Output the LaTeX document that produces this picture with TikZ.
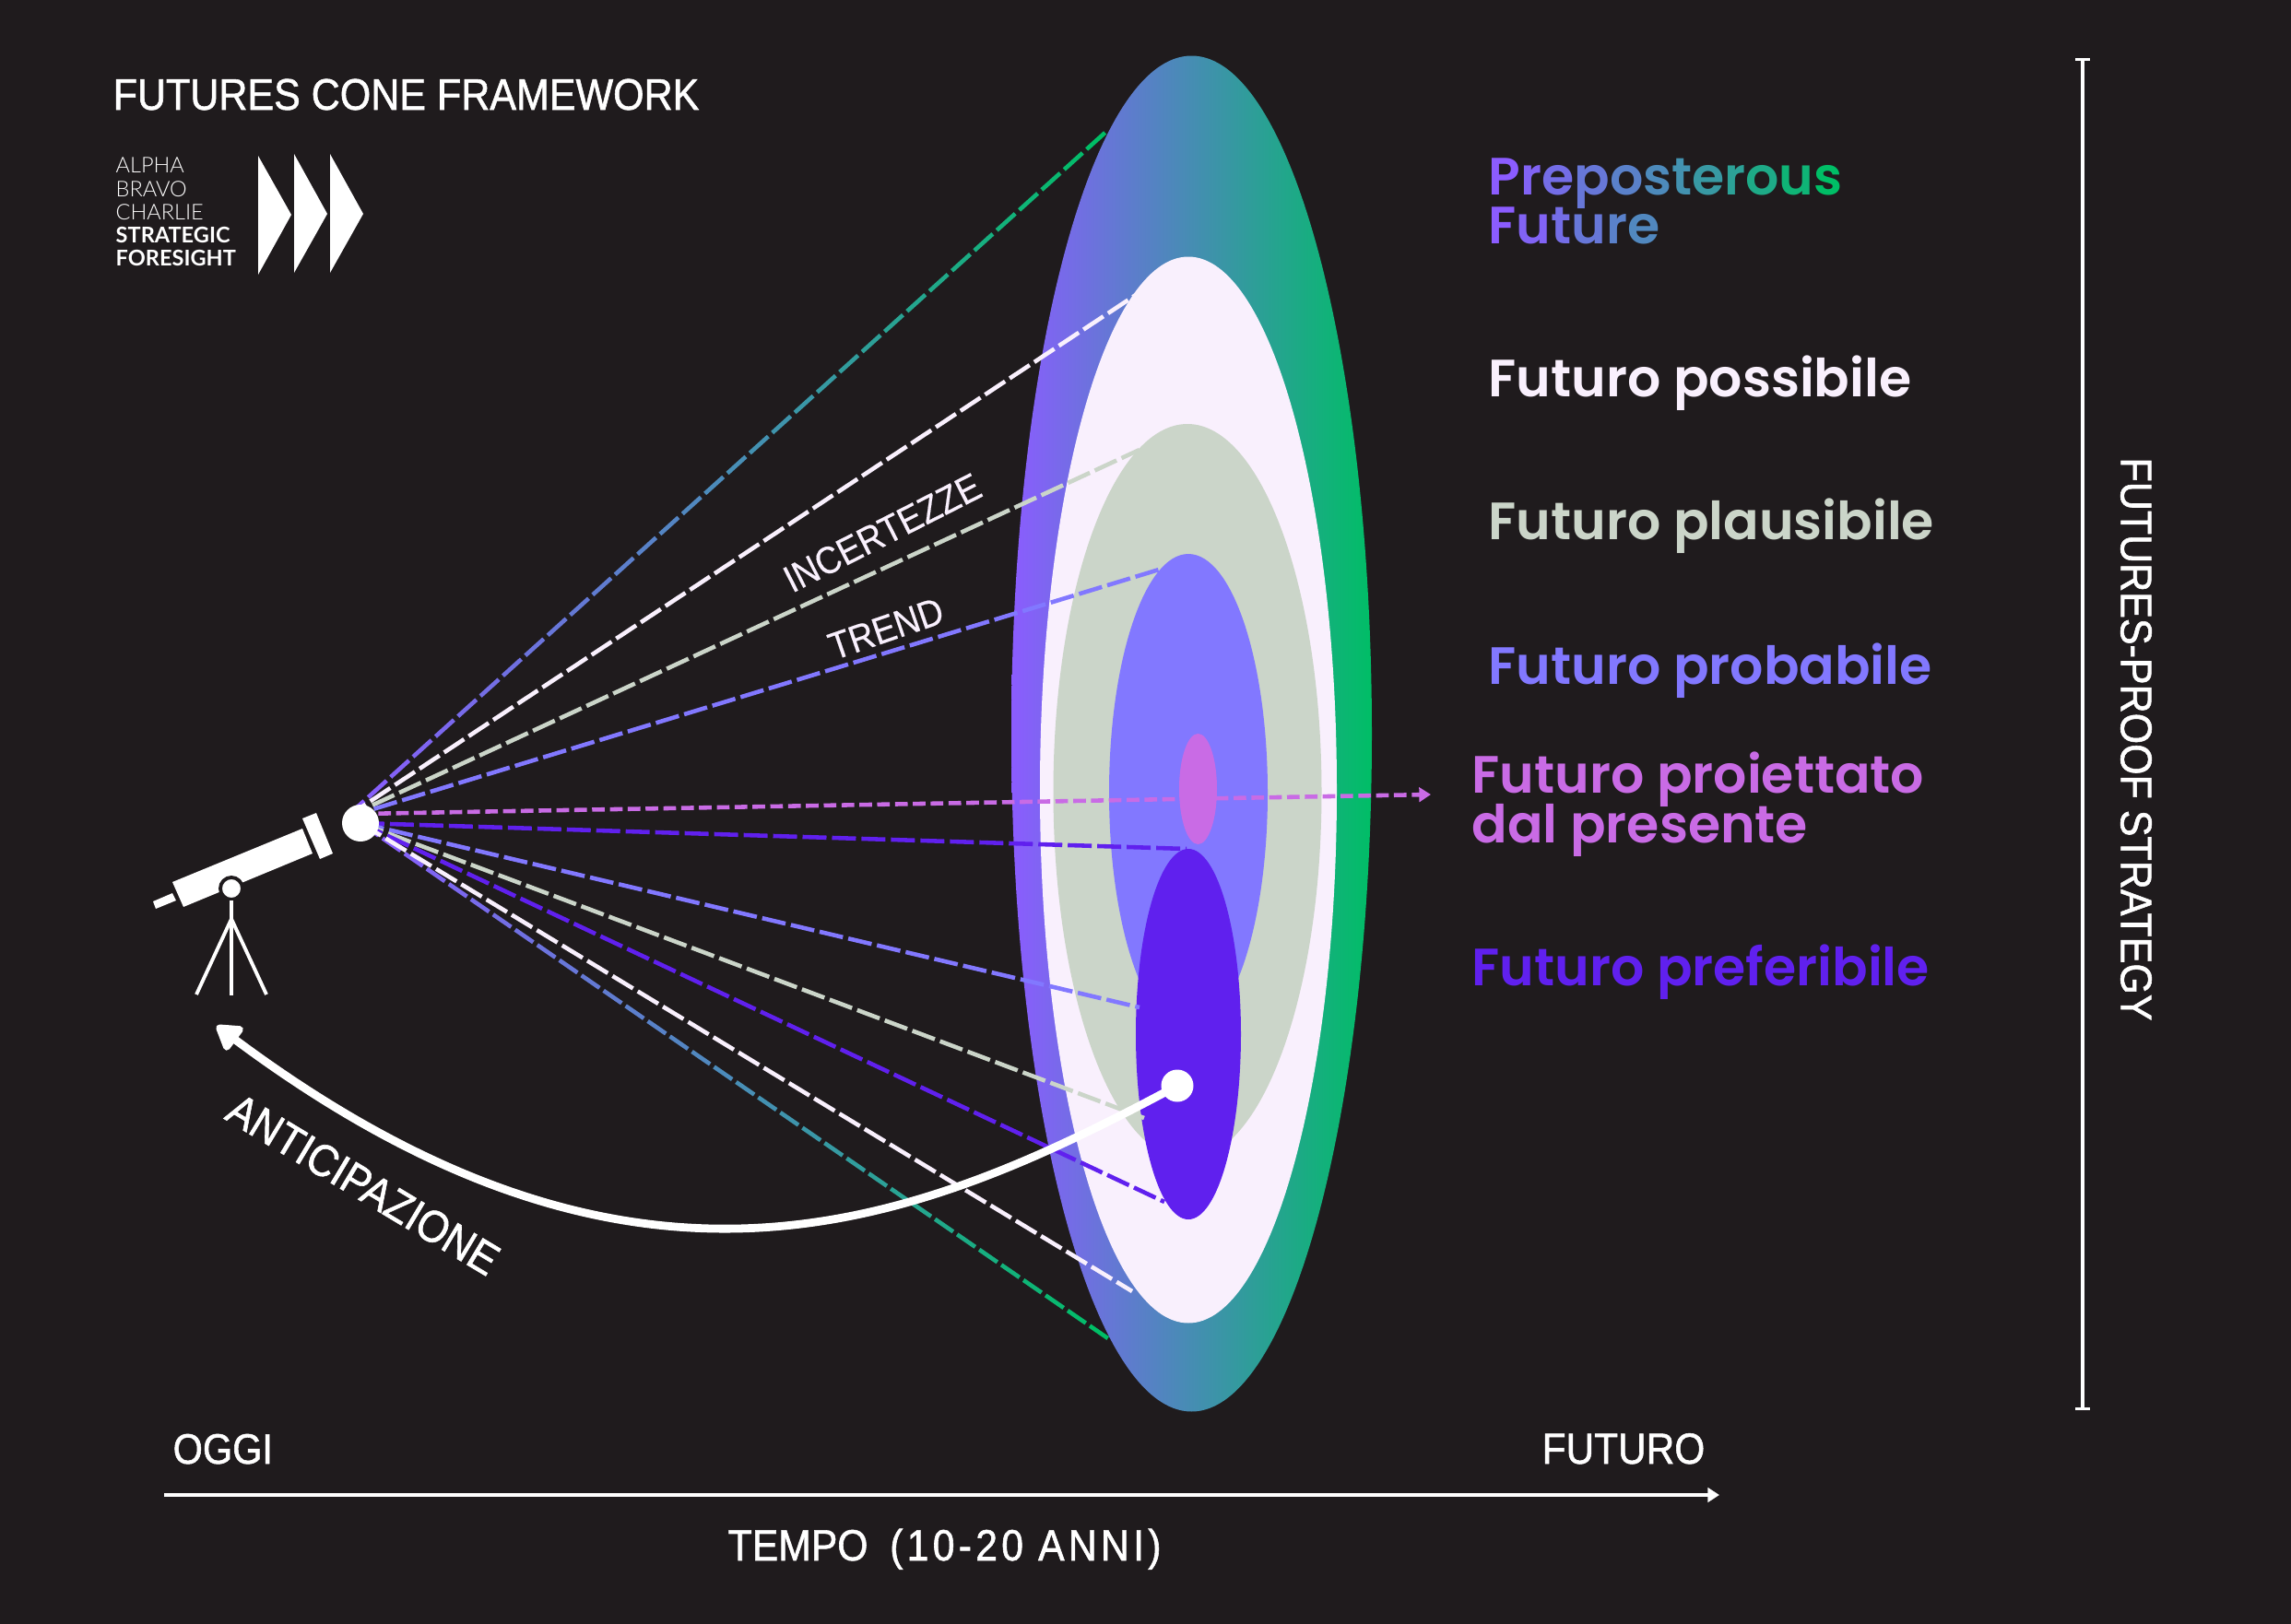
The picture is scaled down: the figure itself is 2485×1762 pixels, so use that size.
\documentclass[tikz,border=0pt]{standalone}
\usepackage{fontspec}
\setmainfont{Liberation Sans}
\newfontfamily\capsfont[FakeStretch=0.9,FakeBold=1.2]{Liberation Sans}
\newfontfamily\capslight[FakeStretch=0.9,FakeBold=0.4]{Liberation Sans}
\newfontfamily\conefont{Poppins SemiBold}
\newfontfamily\logofont{Lato Light}
\newfontfamily\logoboldfont{Lato Bold}
\usetikzlibrary{shapes.geometric,arrows.meta,calc}
\definecolor{bgcol}{HTML}{1F1B1D}
\definecolor{coneviolet}{HTML}{8B5CFF}
\definecolor{conemid}{HTML}{4A8DB8}
\definecolor{conegreen}{HTML}{00BE66}
\definecolor{possibile}{HTML}{F9F0FD}
\definecolor{plausibile}{HTML}{CBD5C9}
\definecolor{probabile}{HTML}{8278FF}
\definecolor{proiettato}{HTML}{C96BE5}
\definecolor{preferibile}{HTML}{6020EE}
% one dash at a time, colour running violet -> blue -> green
\newcommand{\gradline}[2]{%
  \foreach \i in {0,...,33}{
    \pgfmathsetmacro\tstart{\i/34}
    \pgfmathsetmacro\tend{(\i+0.82)/34}
    \pgfmathtruncatemacro\mixa{min(100,200*\i/33)}
    \pgfmathtruncatemacro\mixb{max(0,200*\i/33-100)}
    \colorlet{dashcol}{conemid!\mixa!coneviolet}
    \colorlet{dashcol}{conegreen!\mixb!dashcol}
    \draw[dashcol,line width=1.3pt] ($(#1)!\tstart!(#2)$) -- ($(#1)!\tend!(#2)$);
  }}
\newcommand{\lettercol}[2]{\textcolor{#1}{#2}}
\begin{document}
\begin{tikzpicture}[x=0.1mm,y=-0.1mm,
    oval/.style={ellipse,inner sep=0pt,outer sep=0pt},
    dashline/.style={line width=1.3pt,dash pattern=on 7.4pt off 1.7pt},
    conelabel/.style={anchor=base west,inner sep=0pt,font=\conefont\fontsize{16.2}{16.2}\selectfont},
    capslabel/.style={inner sep=0pt,text=white,font=\capsfont\fontsize{13.6}{13.6}\selectfont},
    thinlabel/.style={inner sep=0pt,text=possibile,font=\capslight\fontsize{11.8}{11.8}\selectfont},
    logolabel/.style={anchor=base west,inner sep=0pt,text=white,font=\logofont\fontsize{6.7}{6.7}\selectfont},
    logobold/.style={anchor=base west,inner sep=0pt,text=white,font=\logoboldfont\fontsize{6.7}{6.7}\selectfont}]
  \fill[bgcol] (0,0) rectangle (2485,1762);

  % ovals of the cone
  \node (preposterous) at (1292.5,796) [oval,minimum width=39.1mm,minimum height=147.1mm,left color=coneviolet,middle color=conemid,right color=conegreen] {};
  \node (possible) at (1289,857) [oval,fill=possibile,minimum width=32.2mm,minimum height=115.7mm] {};
  \node (plausible) at (1288,859) [oval,fill=plausibile,minimum width=29.1mm,minimum height=79.8mm] {};
  \node (probable) at (1289,860) [oval,fill=probabile,minimum width=17.2mm,minimum height=51.8mm] {};
  \node (projected) at (1299.5,856) [oval,fill=proiettato,minimum width=4.1mm,minimum height=12mm] {};
  \node (preferable) at (1289,1122) [oval,fill=preferibile,minimum width=11.4mm,minimum height=40.2mm] {};

  % lines of sight
  \coordinate (eye) at (391,893);
  \coordinate (eyeup) at (375,887);
  \coordinate (eyepink) at (391,883);
  \coordinate (preptop) at (1203,140);
  \coordinate (prepbottom) at (1206,1455);
  \coordinate (whitetop) at (1238,316);
  \coordinate (whitebottom) at (1228,1401);
  \coordinate (sagetop) at (1236,488);
  \coordinate (sagebottom) at (1241,1213);
  \coordinate (bluetop) at (1257,618);
  \coordinate (bluebottom) at (1236,1093);
  \coordinate (purpletop) at (1287,921);
  \coordinate (purplebottom) at (1263,1304);
  \coordinate (pinkend) at (1552,862);
  \gradline{eyeup}{preptop}
  \gradline{eye}{prepbottom}
  \draw (eyeup) edge[dashline,possibile] (whitetop);
  \draw (eyeup) edge[dashline,plausibile] (sagetop);
  \draw (eyeup) edge[dashline,probabile] (bluetop);
  \draw (eye) edge[dashline,preferibile] (purpletop);
  \draw (eye) edge[dashline,probabile] (bluebottom);
  \draw (eye) edge[dashline,plausibile] (sagebottom);
  \draw (eye) edge[dashline,preferibile] (purplebottom);
  \draw (eye) edge[dashline,possibile] (whitebottom);
  \draw (eyepink) edge[line width=1.3pt,proiettato,dash pattern=on 3.9pt off 1.6pt,-{Triangle[length=3.6pt,width=4.4pt]}] (pinkend);

  % telescope
  \node (eyedot) at (eye) [circle,fill=white,inner sep=0pt,minimum size=4mm] {};
  \fill[white] (187,957) -- (328,899) -- (339,926) -- (199,984) -- cycle;
  \fill[white] (328,888) -- (343,882) -- (361,926) -- (347,932) -- cycle;
  \fill[white] (166,978) -- (187,969) -- (191,977) -- (169,986) -- cycle;
  \node (mount) at (251,964) [circle,fill=white,draw=bgcol,line width=1.1pt,inner sep=0pt,minimum size=2.4mm] {};
  \coordinate (legtop) at (251,977);
  \coordinate (legjoin) at (251,997);
  \coordinate (legmid) at (251,1080);
  \coordinate (legleft) at (213,1079);
  \coordinate (legright) at (289,1079);
  \draw[white,line width=1.1pt] (legtop) -- (legmid);
  \draw[white,line width=1.1pt] (legjoin) -- (legleft);
  \draw[white,line width=1.1pt] (legjoin) -- (legright);

  % anticipation arrow
  \node (futuredot) at (1277,1178) [circle,fill=white,inner sep=0pt,minimum size=3.5mm] {};
  \coordinate (anticipation) at (235,1113);
  \draw[white,line width=2.5pt,-{Triangle[length=8.5pt,width=10pt,round]}] (futuredot.center) .. controls (990,1332) and (690,1452) .. (anticipation);

  % title and logo
  \node (title) at (122,119) [capslabel,anchor=base west] {FUTURES CONE FRAMEWORK};
  \node (alpha) at (125,187) [logolabel] {ALPHA};
  \node (bravo) at (125,213) [logolabel] {BRAVO};
  \node (charlie) at (125,238) [logolabel] {CHARLIE};
  \node (strategic) at (125,263) [logobold] {STRATEGIC};
  \node (foresight) at (125,288) [logobold] {FORESIGHT};
  \fill[white] (280,169) -- (316,233) -- (280,298) -- cycle;
  \fill[white] (319,167) -- (355,232) -- (319,296) -- cycle;
  \fill[white] (358,167) -- (394,232) -- (358,296) -- cycle;

  % labels
  \node (preplabel) at (1614,211) [conelabel] {%
    \lettercol{coneviolet}{P}\lettercol{conemid!15!coneviolet}{r}\lettercol{conemid!35!coneviolet}{e}%
    \lettercol{conemid!55!coneviolet}{p}\lettercol{conemid!75!coneviolet}{o}\lettercol{conemid!95!coneviolet}{s}%
    \lettercol{conegreen!10!conemid}{t}\lettercol{conegreen!25!conemid}{e}\lettercol{conegreen!40!conemid}{r}%
    \lettercol{conegreen!60!conemid}{o}\lettercol{conegreen!80!conemid}{u}\lettercol{conegreen}{s}};
  \node (futurelabel) at (1614,264) [conelabel] {%
    \lettercol{coneviolet}{F}\lettercol{conemid!15!coneviolet}{u}\lettercol{conemid!35!coneviolet}{t}%
    \lettercol{conemid!55!coneviolet}{u}\lettercol{conemid!75!coneviolet}{r}\lettercol{conemid!90!coneviolet}{e}};
  \node (possiblelabel) at (1614,430) [conelabel,text=possibile] {Futuro possibile};
  \node (plausiblelabel) at (1614,585) [conelabel,text=plausibile] {Futuro plausibile};
  \node (probablelabel) at (1614,742) [conelabel,text=probabile] {Futuro probabile};
  \node (projectedlabel) at (1596,860) [conelabel,text=proiettato] {Futuro proiettato};
  \node (presentlabel) at (1596,914) [conelabel,text=proiettato] {dal presente};
  \node (preferablelabel) at (1596,1069) [conelabel,text=preferibile] {Futuro preferibile};

  \node (incertezze) at (957,578) [thinlabel,rotate=27] {INCERTEZZE};
  \node (trendlabel) at (961,682) [thinlabel,rotate=19] {TREND};
  \node (anticipazione) at (394,1285) [capslabel,rotate=-31] {\fontsize{13.9}{13.9}\selectfont ANTICIPAZIONE};

  % time axis
  \coordinate (axisstart) at (178,1622);
  \coordinate (axisend) at (1865,1622);
  \draw (axisstart) edge[white,line width=0.9pt,-{Triangle[length=3.6pt,width=4.4pt]}] (axisend);
  \node (oggi) at (187,1588) [capslabel,anchor=base west] {\fontsize{13.1}{13.1}\selectfont OGGI};
  \node (futuro) at (1672,1588) [capslabel,anchor=base west] {\fontsize{13.4}{13.4}\selectfont FUTURO};
  \node (tempo) at (789,1693) [capslabel,anchor=base west] {\fontsize{13.5}{13.5}\selectfont TEMPO\ \ \addfontfeature{LetterSpace=9}(10-20 ANNI)};

  % strategy bracket
  \coordinate (brackettop) at (2259,63);
  \coordinate (bracketbottom) at (2259,1530);
  \draw (brackettop) edge[white,line width=0.9pt,{Bar[width=4.5pt]}-{Bar[width=4.5pt]}] (bracketbottom);
  \node (strategy) at (2317,802) [capslabel,rotate=-90] {\fontsize{13.6}{13.6}\selectfont FUTURES-PROOF STRATEGY};
\end{tikzpicture}
\end{document}
